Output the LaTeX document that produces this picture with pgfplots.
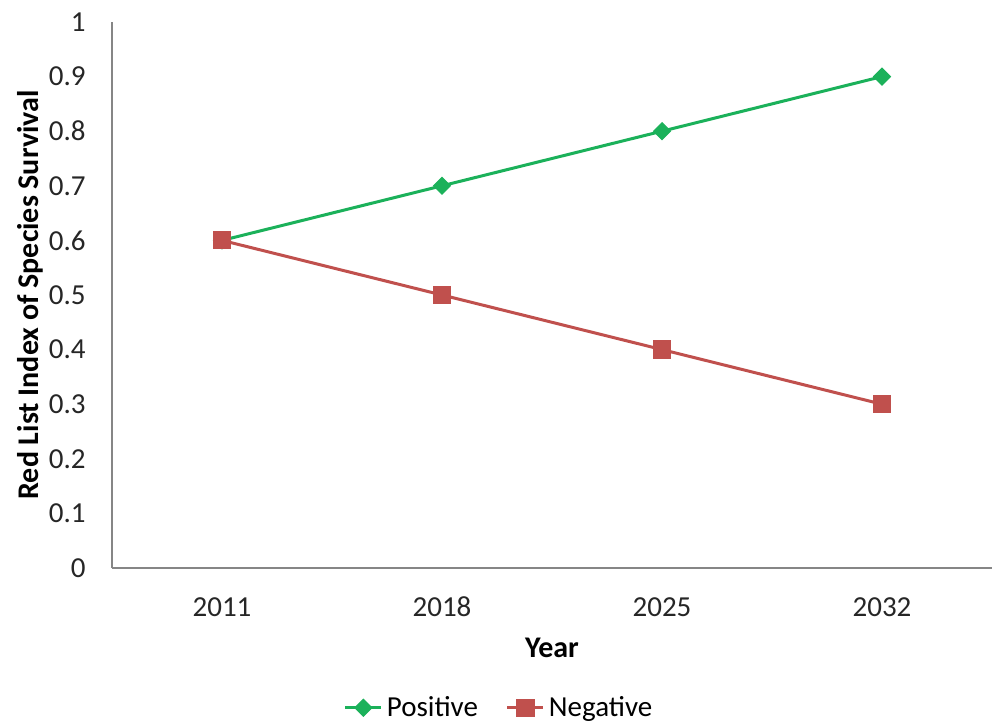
\documentclass[border=0pt]{standalone}
\usepackage{pgfplots}
\pgfplotsset{compat=1.18}
\usepackage{fontspec}
\setmainfont{Carlito}
\definecolor{posgreen}{RGB}{27,177,90}
\definecolor{negred}{RGB}{192,80,77}
\definecolor{axgray}{RGB}{134,134,134}
\begin{document}
\begin{tikzpicture}
\begin{axis}[
  name=ax,
  scale only axis,
  width=440pt, height=273pt,
  xmin=-0.5, xmax=3.5,
  ymin=0, ymax=1,
  axis lines*=left,
  axis line style={draw=axgray, line width=1pt},
  xtick={0,1,2,3},
  xticklabels={2011,2018,2025,2032},
  ytick={0,0.1,...,1},
  yticklabels={0,0.1,0.2,0.3,0.4,0.5,0.6,0.7,0.8,0.9,1},
  major tick length=0pt,
  tick style={draw=none},
  /pgf/number format/assume math mode=true,
  ticklabel style={font=\fontsize{14.5pt}{16pt}\selectfont, text=black!85},
  yticklabel style={inner sep=0pt, xshift=-13pt},
  xticklabel style={inner sep=0pt, anchor=center, yshift=-19.5pt},
  xlabel={Year},
  ylabel={Red List Index of Species Survival},
  xlabel style={at={(axis description cs:0.5,-0.1465)}, anchor=center, font=\bfseries\fontsize{15pt}{17pt}\selectfont},
  ylabel style={at={(axis description cs:-0.0932,0.5)}, anchor=center, font=\bfseries\fontsize{15pt}{17pt}\selectfont},
  legend style={at={(axis description cs:0.441,-0.256)}, anchor=center, draw=none, font=\fontsize{14.5pt}{16pt}\selectfont, legend columns=2, /tikz/every even column/.append style={column sep=12pt}},
  legend image code/.code={\draw[#1] (0pt,0pt) -- (18pt,0pt); \draw[#1, mark repeat=1, only marks] plot coordinates {(9pt,0pt)};},
]
\addplot[color=posgreen, line width=1.5pt, mark=square*, mark size=3pt, mark options={fill=posgreen, draw=posgreen, line width=0.5pt, rotate=45}]
  coordinates {(0,0.6) (1,0.7) (2,0.8) (3,0.9)};
\addlegendentry{Positive}
\addplot[color=negred, line width=1.5pt, mark=square*, mark size=4.3pt, mark options={fill=negred, draw=negred, line width=0.5pt}]
  coordinates {(0,0.6) (1,0.5) (2,0.4) (3,0.3)};
\addlegendentry{Negative}
\end{axis}
\pgfresetboundingbox
\useasboundingbox ([xshift=-56pt,yshift=-77pt]ax.south west) rectangle ([xshift=0.5pt,yshift=11pt]ax.north east);
\end{tikzpicture}
\end{document}
